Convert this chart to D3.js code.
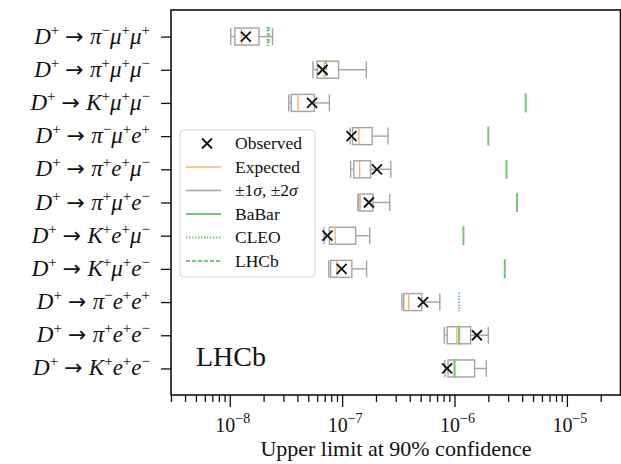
<!DOCTYPE html>
<html>
<head>
<meta charset="utf-8">
<script src="https://cdn.jsdelivr.net/npm/d3@7"></script>
<style>
  body { margin: 0; background: #fff; }
  text { font-family: "Liberation Serif", "DejaVu Serif", serif; fill: #111; }
</style>
</head>
<body>
<svg id="chart" width="621" height="464"></svg>
<script>
// final state particles for each D+ channel, top to bottom
var channels = [
	['π−', 'μ+', 'μ+'],
	['π+', 'μ+', 'μ−'],
	['K+', 'μ+', 'μ−'],
	['π−', 'μ+', 'e+'],
	['π+', 'e+', 'μ−'],
	['π+', 'μ+', 'e−'],
	['K+', 'e+', 'μ−'],
	['K+', 'μ+', 'e−'],
	['π−', 'e+', 'e+'],
	['π+', 'e+', 'e−'],
	['K+', 'e+', 'e−']
];
var minus2sigma = [1.02e-8, 5.5e-8, 3.35e-8, 1.18e-7, 1.19e-7, 1.38e-7, 6.9e-8, 7.6e-8, 3.4e-7, 8.1e-7, 8.2e-7];
var minus1sigma = [1.11e-8, 6.0e-8, 3.52e-8, 1.24e-7, 1.27e-7, 1.41e-7, 7.7e-8, 7.9e-8, 3.53e-7, 8.6e-7, 8.75e-7];
var expected    = [1.27e-8, 6.9e-8, 4.05e-8, 1.41e-7, 1.43e-7, 1.45e-7, 8.7e-8, 9.0e-8, 3.92e-7, 1.05e-6, 1.0e-6];
var plus1sigma  = [1.82e-8, 9.3e-8, 5.67e-8, 1.85e-7, 1.79e-7, 1.88e-7, 1.32e-7, 1.22e-7, 5.1e-7, 1.39e-6, 1.51e-6];
var plus2sigma  = [2.4e-8, 1.64e-7, 7.7e-8, 2.56e-7, 2.71e-7, 2.65e-7, 1.76e-7, 1.65e-7, 7.4e-7, 2.0e-6, 1.92e-6];
var observed    = [1.39e-8, 6.7e-8, 5.4e-8, 1.21e-7, 2.04e-7, 1.73e-7, 7.4e-8, 9.9e-8, 5.25e-7, 1.58e-6, 8.6e-7];
var babar = [null, null, 4.3e-6, 2.0e-6, 2.9e-6, 3.6e-6, 1.2e-6, 2.8e-6, null, 1.1e-6, 1.0e-6];
var cleo  = [2.16e-8, null, null, null, null, null, null, null, 1.1e-6, null, null];
var lhcb  = [2.22e-8, 7.2e-8, null, null, null, null, null, null, null, null, null];
var majorTicks = [1e-8, 1e-7, 1e-6, 1e-5];
var tickExponents = ['−8', '−7', '−6', '−5'];

var gray = '#a3a3a3', orange = '#f8b46e', green = '#78c478';

var svg = d3.select('#chart');
var x = d3.scaleLog().domain([3e-9, 3e-5]).range([171, 620.5]);
var y = d3.scaleLinear().domain([-0.8, 10.8]).range([10, 395]);

// minor ticks: 2..9 of every decade inside the domain
var minorTicks = [];
[-9, -8, -7, -6, -5].forEach(function(e) {
	for (var m = 2; m < 10; m++) {
		var v = m * Math.pow(10, e);
		if (v >= 3e-9 && v <= 3e-5) minorTicks.push(v);
	}
});

// axes
svg.append('g')
	.attr('transform', 'translate(0,395)')
	.call(d3.axisBottom(x).tickValues(minorTicks).tickSize(7).tickFormat(''))
	.call(g => g.select('.domain').remove());
svg.append('g')
	.attr('transform', 'translate(0,395)')
	.call(d3.axisBottom(x).tickValues(majorTicks).tickSize(12).tickFormat(''))
	.call(g => g.select('.domain').remove());
svg.append('g')
	.attr('transform', 'translate(171,0)')
	.call(d3.axisLeft(y).tickValues(d3.range(channels.length)).tickSize(10).tickFormat(''))
	.call(g => g.select('.domain').remove());
svg.selectAll('.tick line').attr('stroke', '#111').attr('stroke-width', 1.3);

// frame
svg.append('rect')
	.attr('x', 171).attr('y', 10)
	.attr('width', 620.5 - 171).attr('height', 385)
	.attr('fill', 'none').attr('stroke', '#111').attr('stroke-width', 1.6);

// x tick labels 10^k
majorTicks.forEach(function(v, i) {
	var t = svg.append('text')
		.attr('x', x(v) + 3).attr('y', 432)
		.attr('text-anchor', 'middle');
	t.append('tspan').style('font-size', '20px').text('10');
	t.append('tspan').style('font-size', '14px').attr('dy', -9).text(tickExponents[i]);
});

svg.append('text')
	.attr('x', 396).attr('y', 456)
	.attr('text-anchor', 'middle')
	.style('font-size', '22px')
	.text('Upper limit at 90% confidence');

// y labels
channels.forEach(function(parts, i) {
	var t = svg.append('text')
		.attr('x', 150).attr('y', y(i) + 7)
		.attr('text-anchor', 'end');
	var pieces = [['D', '+']].concat(parts.map(p => [p[0], p[1]]));
	pieces.forEach(function(p, k) {
		t.append('tspan').style('font-size', '23px').style('font-style', 'italic')
			.attr('dy', k < 2 ? 0 : 9).text(p[0]);
		t.append('tspan').style('font-size', '15px').attr('dy', -9).text(p[1]);
		if (k === 0) {
			t.append('tspan').style('font-size', '22px')
				.style('font-family', '"DejaVu Sans", sans-serif')
				.attr('dx', 6).attr('dy', 9).text('→');
			t.append('tspan').style('font-size', '1px').attr('dx', 6).text(' ');
		}
	});
});

// boxes
var hb = 8.5;
var rows = svg.append('g').selectAll('g')
	.data(channels.map((c, i) => i))
	.enter().append('g')
	.attr('transform', i => 'translate(0,' + y(i) + ')');

rows.append('line')
	.attr('x1', i => x(minus2sigma[i])).attr('x2', i => x(minus1sigma[i]))
	.attr('stroke', gray).attr('stroke-width', 1.4);
rows.append('line')
	.attr('x1', i => x(plus1sigma[i])).attr('x2', i => x(plus2sigma[i]))
	.attr('stroke', gray).attr('stroke-width', 1.4);
rows.selectAll('.cap')
	.data(i => [minus2sigma[i], plus2sigma[i]])
	.enter().append('line')
	.attr('class', 'cap')
	.attr('x1', d => x(d)).attr('x2', d => x(d))
	.attr('y1', -hb).attr('y2', hb)
	.attr('stroke', gray).attr('stroke-width', 1.4);
rows.append('rect')
	.attr('x', i => x(minus1sigma[i]))
	.attr('width', i => x(plus1sigma[i]) - x(minus1sigma[i]))
	.attr('y', -hb).attr('height', 2 * hb)
	.attr('fill', 'none').attr('stroke', gray).attr('stroke-width', 1.4);
rows.append('line')
	.attr('x1', i => x(expected[i])).attr('x2', i => x(expected[i]))
	.attr('y1', -hb).attr('y2', hb)
	.attr('stroke', orange).attr('stroke-width', 1.4);

// previous limits
function limitLines(vals, dash) {
	rows.filter(i => vals[i] !== null).append('line')
		.attr('x1', i => x(vals[i])).attr('x2', i => x(vals[i]))
		.attr('y1', -9.5).attr('y2', 9.5)
		.attr('stroke', green).attr('stroke-width', 2)
		.attr('stroke-dasharray', dash);
}
limitLines(babar, null);
limitLines(cleo, '1.5,1.5');
limitLines(lhcb, '4,2');

// observed markers
rows.append('path')
	.attr('d', i => {
		var cx = x(observed[i]);
		return 'M' + (cx - 5) + ',-5L' + (cx + 5) + ',5M' + (cx - 5) + ',5L' + (cx + 5) + ',-5';
	})
	.attr('stroke', '#111').attr('stroke-width', 1.8).attr('fill', 'none');

// legend
var legendItems = ['Observed', 'Expected', '±1σ, ±2σ', 'BaBar', 'CLEO', 'LHCb'];
var lg = svg.append('g');
lg.append('rect')
	.attr('x', 180).attr('y', 130).attr('width', 135).attr('height', 147)
	.attr('rx', 4).attr('fill', '#fff').attr('fill-opacity', 0.85)
	.attr('stroke', '#d6d6d6').attr('stroke-width', 1);
legendItems.forEach(function(name, i) {
	var ly = 143.5 + i * 23.5;
	if (i === 0) {
		lg.append('path')
			.attr('d', 'M202,' + (ly - 5) + 'L212,' + (ly + 5) + 'M202,' + (ly + 5) + 'L212,' + (ly - 5))
			.attr('stroke', '#111').attr('stroke-width', 1.8);
	} else {
		var col = i === 1 ? orange : i === 2 ? gray : green;
		var dash = i === 4 ? '1.5,1.5' : i === 5 ? '4,2' : null;
		lg.append('line')
			.attr('x1', 186).attr('x2', 221).attr('y1', ly).attr('y2', ly)
			.attr('stroke', col).attr('stroke-width', i > 2 ? 2 : 1.4)
			.attr('stroke-dasharray', dash);
	}
	var t = lg.append('text').attr('x', 235).attr('y', ly + 5.5).style('font-size', '17.5px');
	if (i === 2) {
		t.append('tspan').text('±1');
		t.append('tspan').style('font-style', 'italic').text('σ');
		t.append('tspan').text(', ±2');
		t.append('tspan').style('font-style', 'italic').text('σ');
	} else {
		t.text(name);
	}
});

svg.append('text')
	.attr('x', 196).attr('y', 366)
	.style('font-size', '28px')
	.text('LHCb');
</script>
</body>
</html>
